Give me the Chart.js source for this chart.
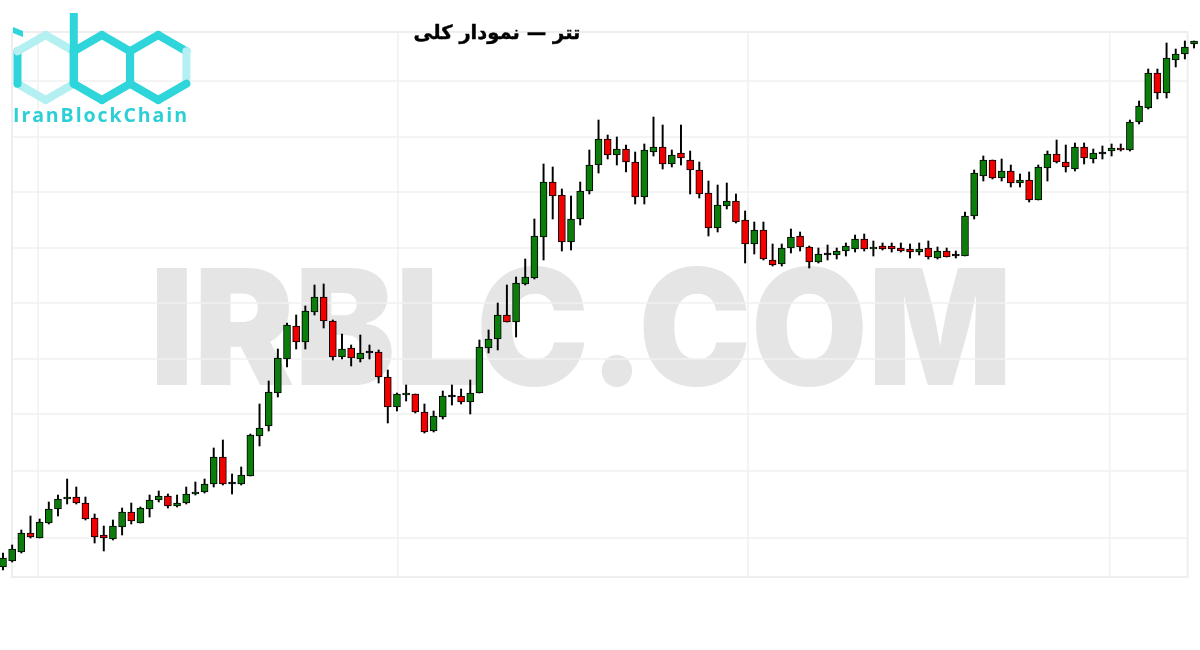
<!DOCTYPE html>
<html>
<head>
<meta charset="utf-8">
<script src="https://cdn.jsdelivr.net/npm/chart.js@4.4.1/dist/chart.umd.min.js"></script>
<style>
  html, body { margin: 0; padding: 0; background: #fff; }
  #wrap { position: relative; width: 1200px; height: 650px; overflow: hidden; }
  #c { position: absolute; left: 0; top: 0; }
  #logo { position: absolute; left: 0; top: 0; }
  #title {
    position: absolute; left: 497px; top: 20px; transform: translateX(-50%);
    font: bold 19.5px "DejaVu Sans", sans-serif; color: #000; white-space: nowrap; line-height: 26px;
    -webkit-text-stroke: 0.4px #000;
  }
</style>
</head>
<body>
<div id="wrap">
  <canvas id="c" width="1200" height="650"></canvas>
  <svg id="logo" width="200" height="130" viewBox="0 0 200 130"></svg>
  <div id="title" dir="rtl">تتر — نمودار کلی</div>
</div>
<script>
// قیمت‌ها (واحد دلخواه، از روی تصویر خوانده شده)
const opens  = [83,89,98,117,112,127,141,151,153,147,132,115,111,123,138,127,141,150,154,144,147,156,158,166,193,166,166,174,214,224,257,291,324,308,338,353,329,293,302,291,297,298,273,243,255,256,238,219,233,253,254,248,257,302,311,335,328,366,372,413,468,455,408,431,459,485,511,495,501,488,453,498,503,486,497,490,480,457,422,444,449,430,406,420,390,386,402,414,403,388,395,395,399,401,411,401,404,404,402,401,398,402,392,399,394,394,434,474,490,472,479,467,470,450,482,496,488,481,503,491,496,499,502,500,528,542,577,557,590,596,606];
const highs  = [97,105,120,134,131,148,155,171,163,153,136,124,130,142,147,143,155,159,156,155,163,168,171,202,210,176,183,216,246,269,301,327,335,344,365,366,330,316,305,315,305,300,280,257,265,256,246,239,259,265,261,270,310,320,347,365,373,391,431,486,483,461,454,468,500,530,515,513,505,498,506,533,525,500,525,499,488,469,465,467,456,439,428,428,406,406,421,418,404,402,405,402,407,415,416,409,407,407,407,406,407,409,403,402,399,438,480,494,490,491,485,476,478,485,499,510,505,507,507,501,504,506,506,530,549,581,581,607,601,609,609];
const lows   = [80,88,97,112,112,126,134,146,146,130,107,99,110,115,126,127,133,148,142,143,146,155,157,163,165,156,165,174,204,219,253,283,301,301,335,322,290,291,284,288,291,267,227,239,249,237,217,218,231,245,246,236,257,297,300,328,313,365,371,390,431,399,400,425,456,477,491,485,478,446,446,494,481,483,485,456,452,414,418,441,427,387,396,390,384,384,397,399,382,387,390,391,394,398,399,394,400,398,398,392,395,391,391,393,392,394,431,469,471,469,463,463,448,450,469,487,478,479,486,487,491,494,499,499,526,541,551,552,583,591,602];
const closes = [92,101,117,113,128,141,151,153,147,131,113,112,124,138,129,142,150,154,144,147,156,158,166,193,166,167,175,215,222,258,292,325,308,339,353,329,293,301,292,297,298,273,243,256,257,238,218,234,254,254,248,257,303,311,335,328,367,373,414,468,454,408,431,459,485,511,495,501,488,453,500,503,486,495,492,480,456,422,445,449,428,406,420,391,385,402,413,403,388,396,396,399,404,411,401,403,401,401,399,398,401,393,399,393,395,434,477,490,472,479,467,470,450,483,496,488,483,503,492,497,497,502,500,528,544,577,557,592,596,603,609];

// خطوط راهنما و قاب پس‌زمینه
const gridLevels = [569, 513, 458, 402, 347, 291, 236, 179, 112];
const gridIndex  = [3.82, 43.1, 81.3, 120.8];
const frame = {left: 0.98, right: 129.3, top: 618, bottom: 73};

const upColor = '#0b7d0b';
const downColor = '#f20000';

const bodies = opens.map((o, i) => ({x: i, y: [o, closes[i]]}));
const wicks = highs.map((h, i) => ({x: i, y: [lows[i], h]}));
const bodyColors = opens.map((o, i) => {
  if (Math.abs(closes[i] - o) < 2) return '#000';
  return closes[i] >= o ? upColor : downColor;
});

const backdrop = {
  id: 'backdrop',
  beforeDatasetsDraw(chart) {
    const {ctx, scales: {x, y}} = chart;
    // واترمارک
    ctx.save();
    ctx.fillStyle = '#e5e5e5';
    ctx.font = '900 161px Inter, "Open Sans", sans-serif';
    const text = 'IRBLC.COM';
    const w = ctx.measureText(text).width;
    ctx.translate(150, 385);
    ctx.scale(862 / w, 1);
    ctx.fillText(text, 0, 0);
    ctx.restore();

    ctx.save();
    ctx.strokeStyle = '#f1f1f1';
    ctx.lineWidth = 1.5;
    const l = x.getPixelForValue(frame.left), r = x.getPixelForValue(frame.right);
    const t = y.getPixelForValue(frame.top), b = y.getPixelForValue(frame.bottom);
    gridLevels.forEach(v => {
      const py = y.getPixelForValue(v);
      ctx.beginPath(); ctx.moveTo(l, py); ctx.lineTo(r, py); ctx.stroke();
    });
    gridIndex.forEach(v => {
      const px = x.getPixelForValue(v);
      ctx.beginPath(); ctx.moveTo(px, t); ctx.lineTo(px, b); ctx.stroke();
    });
    ctx.strokeStyle = '#eeeeee';
    ctx.lineWidth = 2;
    ctx.strokeRect(l, t, r - l, b - t);
    ctx.restore();
  }
};

new Chart(document.getElementById('c'), {
  type: 'bar',
  data: {
    datasets: [{
      label: 'body',
      data: bodies,
      backgroundColor: bodyColors,
      borderColor: '#000',
      borderWidth: 1,
      borderSkipped: false,
      barThickness: 7,
      minBarLength: 2,
      grouped: false,
      order: 0
    }, {
      label: 'wick',
      data: wicks,
      backgroundColor: '#000',
      borderWidth: 0,
      barThickness: 1.3,
      grouped: false,
      order: 1
    }]
  },
  options: {
    responsive: false,
    animation: false,
    devicePixelRatio: 1,
    layout: {padding: 0},
    plugins: {legend: {display: false}, tooltip: {enabled: false}},
    scales: {
      x: {type: 'linear', min: -0.327, max: 130.65, offset: false, display: false},
      y: {min: 0, max: 650, display: false}
    }
  },
  plugins: [backdrop]
});

// لوگو
(function () {
  const svg = document.getElementById('logo');
  const R = 32.5, cy = 67.5, hw = R * Math.cos(Math.PI / 6);
  const dark = '#2ed5da', pale = '#b4eff1';
  const hex = cx => [[cx, cy - R], [cx + hw, cy - R / 2], [cx + hw, cy + R / 2], [cx, cy + R], [cx - hw, cy + R / 2], [cx - hw, cy - R / 2]];
  const seg = (a, b, col) => `<line x1="${a[0]}" y1="${a[1]}" x2="${b[0]}" y2="${b[1]}" stroke="${col}" stroke-width="8" stroke-linecap="round"/>`;
  let out = '';
  const c0 = 17.5 + hw;
  const centers = [c0, c0 + 2 * hw, c0 + 4 * hw];
  const styles = [
    [pale, pale, pale, pale, dark, pale],
    [dark, dark, dark, dark, dark, dark],
    [dark, pale, dark, dark, dark, dark]
  ];
  centers.forEach((cx, k) => {
    const p = hex(cx);
    for (let i = 0; i < 6; i++) out += seg(p[i], p[(i + 1) % 6], styles[k][i]);
  });
  // ساقه حرف b و نقطه حرف i
  const sx = c0 + hw;
  out += `<line x1="${sx}" y1="13" x2="${sx}" y2="${cy + R / 2}" stroke="${dark}" stroke-width="8"/>`;
  out += `<polygon points="13,27 23,31 23,37 13,33" fill="${dark}"/>`;
  out += `<text x="13" y="122" font-family="'Open Sans', sans-serif" font-weight="700" font-size="19.5" fill="#2ccfd5" textLength="174" lengthAdjust="spacing">IranBlockChain</text>`;
  svg.innerHTML = out;
})();
</script>
</body>
</html>
